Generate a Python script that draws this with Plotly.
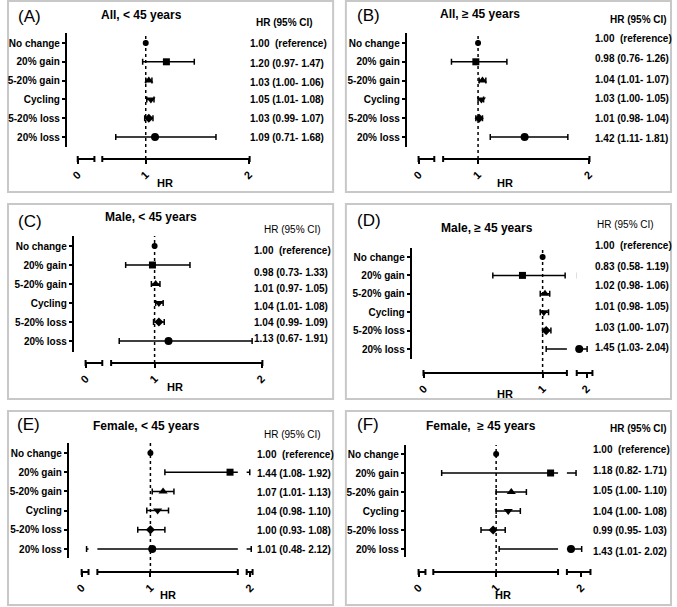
import plotly.graph_objects as go

W, H = 677, 607
FONT = "Liberation Sans, Arial, sans-serif"

# ---------------- data ----------------
categories = ["No change", "20% gain", "5-20% gain", "Cycling", "5-20% loss", "20% loss"]
x_ticks = [0, 1, 2]

titles = ["All, < 45 years", "All, \u2265 45 years", "Male, < 45 years",
          "Male, \u2265 45 years", "Female, < 45 years", "Female,  \u2265 45 years"]
letters = ["(A)", "(B)", "(C)", "(D)", "(E)", "(F)"]

hr_a = [1.00, 1.20, 1.03, 1.05, 1.03, 1.09]
lo_a = [None, 0.97, 1.00, 1.01, 0.99, 0.71]
hi_a = [None, 1.47, 1.06, 1.08, 1.07, 1.68]

hr_b = [1.00, 0.98, 1.04, 1.03, 1.01, 1.42]
lo_b = [None, 0.76, 1.01, 1.00, 0.98, 1.11]
hi_b = [None, 1.26, 1.07, 1.05, 1.04, 1.81]

hr_c = [1.00, 0.98, 1.01, 1.04, 1.04, 1.13]
lo_c = [None, 0.73, 0.97, 1.01, 0.99, 0.67]
hi_c = [None, 1.33, 1.05, 1.08, 1.09, 1.91]

hr_d = [1.00, 0.83, 1.02, 1.01, 1.03, 1.45]
lo_d = [None, 0.58, 0.98, 0.98, 1.00, 1.03]
hi_d = [None, 1.19, 1.06, 1.05, 1.07, 2.04]

hr_e = [1.00, 1.44, 1.07, 1.04, 1.00, 1.01]
lo_e = [None, 1.08, 1.01, 0.98, 0.93, 0.48]
hi_e = [None, 1.92, 1.13, 1.10, 1.08, 2.12]

hr_f = [1.00, 1.18, 1.05, 1.04, 0.99, 1.43]
lo_f = [None, 0.82, 1.00, 1.00, 0.95, 1.01]
hi_f = [None, 1.71, 1.10, 1.08, 1.03, 2.02]

series = [(hr_a, lo_a, hi_a), (hr_b, lo_b, hi_b), (hr_c, lo_c, hi_c),
          (hr_d, lo_d, hi_d), (hr_e, lo_e, hi_e), (hr_f, lo_f, hi_f)]

# ---------------- styling / layout geometry (pixels) ----------------
symbols = ["circle", "square", "triangle-up", "triangle-down", "diamond", "circle"]
msizes = [6, 7, 8, 8, 7, 8]

geo = [
    dict(box=(1, 1, 332, 192), letter=(9, 17), title=(137, 15), head=(282, 22, True),
         yx=60, ytop=33, ybot=147, row0=43, row5=137, xline=159,
         segs=[(72, 89, 0.0, 0.16), (97, 247, 0.585, 2.0)],
         tx=245, ty=[44, 63, 82, 100, 118, 137], axt=(161, 183)),
    dict(box=(345, 1, 676, 192), letter=(354, 16), title=(482, 14), head=(643, 20, True),
         yx=406, ytop=33, ybot=147, row0=43, row5=137, xline=159,
         segs=[(419, 435, 0.0, 0.14), (444, 593, 0.69, 2.0)],
         tx=597, ty=[38, 58, 80, 99, 118, 139], axt=(507, 183)),
    dict(box=(1, 204, 332, 399), letter=(9, 221), title=(147, 217), head=(291, 230, False),
         yx=67, ytop=236, ybot=352, row0=246, row5=341, xline=363,
         segs=[(80, 97, 0.0, 0.15), (106, 260, 0.6, 2.0)],
         tx=249, ty=[250, 272, 288, 306, 322, 338], axt=(171, 387)),
    dict(box=(345, 204, 676, 399), letter=(354, 220), title=(489, 228), head=(630, 224, False),
         yx=411, ytop=248, ybot=359, row0=257, row5=349, xline=373,
         segs=[(424, 570, 0.0, 1.2), (580, 596, 1.27, 2.43)],
         tx=597, ty=[246, 266, 286, 306, 327, 347], axt=(507, 394)),
    dict(box=(1, 411, 332, 605), letter=(8, 424), title=(142, 426), head=(291, 434, False),
         yx=62, ytop=443, ybot=558, row0=453, row5=549, xline=572,
         segs=[(76, 83, 0.0, 0.67), (92, 235, 0.71, 1.48), (244, 250, 1.5, 2.3)],
         tx=252, ty=[454, 473, 492, 511, 530, 549], axt=(164, 595)),
    dict(box=(345, 411, 676, 605), letter=(354, 424), title=(483, 426), head=(643, 428, True),
         yx=405, ytop=445, ybot=557, row0=454, row5=549, xline=572,
         segs=[(419, 426, 0.0, 0.4), (434, 561, 0.794, 1.203), (570, 594, 1.21, 2.5)],
         tx=595, ty=[449, 470, 490, 511, 530, 551], axt=(505, 595)),
]


def px(x):
    return x / W


def py(y):
    return 1 - y / H


def fmt_row(h, l, u):
    if l is None:
        return f"{h:.2f}  (reference)"
    return f"{h:.2f} ({l:.2f}- {u:.2f})"


fig = go.Figure()
layout = dict(width=W, height=H, margin=dict(l=0, r=0, t=0, b=0),
              paper_bgcolor="white", plot_bgcolor="white", showlegend=False)
shapes, annotations = [], []

xi = 0
rows = list(range(len(categories)))
for j, (g, (hr, lo, hi)) in enumerate(zip(geo, series), start=1):
    yname = "y" if j == 1 else f"y{j}"
    ykey = "yaxis" if j == 1 else f"yaxis{j}"
    sp = (g["row5"] - g["row0"]) / 5.0
    r_top = (g["ytop"] - g["row0"]) / sp
    r_bot = (g["ybot"] - g["row0"]) / sp
    layout[ykey] = dict(domain=[py(g["ybot"]), py(g["ytop"])], range=[r_bot, r_top],
                        anchor="free", position=px(g["yx"]),
                        tickmode="array", tickvals=rows, ticktext=categories,
                        showline=True, linewidth=2, linecolor="black",
                        ticks="outside", ticklen=3, tickwidth=1.5, tickcolor="black",
                        showgrid=False, zeroline=False,
                        tickfont=dict(family=FONT, size=10, color="black", weight="bold"))

    err_plus = [None if u is None else u - h for h, u in zip(hr, hi)]
    err_minus = [None if l is None else h - l for h, l in zip(hr, lo)]

    for (p0, p1, r0, r1) in g["segs"]:
        xi += 1
        xname = "x" if xi == 1 else f"x{xi}"
        xkey = "xaxis" if xi == 1 else f"xaxis{xi}"
        eps = 0.004 * (r1 - r0)
        tv = [t for t in x_ticks if r0 - eps <= t <= r1 + eps]
        layout[xkey] = dict(domain=[px(p0), px(p1)], range=[r0 - eps, r1 + eps],
                            anchor="free", position=py(g["xline"]),
                            tickmode="array", tickvals=tv, ticktext=[str(t) for t in tv],
                            tickangle=-45, showline=True, linewidth=2, linecolor="black",
                            ticks="outside", ticklen=4, tickwidth=2, tickcolor="black",
                            showgrid=False, zeroline=False,
                            tickfont=dict(family=FONT, size=11, color="black", weight="bold"))
        # CI lines (clipped to segment)
        fig.add_trace(go.Scatter(
            x=hr, y=rows, xaxis=xname, yaxis=yname, mode="markers",
            marker=dict(size=1, color="rgba(0,0,0,0)"),
            error_x=dict(type="data", symmetric=False, array=err_plus, arrayminus=err_minus,
                         color="black", thickness=1.5, width=3),
            hoverinfo="skip", cliponaxis=True))
        # point estimates lying in this segment
        idx = [i for i, h in enumerate(hr) if r0 <= h <= r1]
        if idx:
            fig.add_trace(go.Scatter(
                x=[hr[i] for i in idx], y=[rows[i] for i in idx], xaxis=xname, yaxis=yname,
                mode="markers", cliponaxis=False,
                marker=dict(symbol=[symbols[i] for i in idx], size=[msizes[i] for i in idx],
                            color="black", opacity=1, line=dict(width=0)),
                hoverinfo="skip"))
        # segment end caps
        for pe in (p0, p1):
            shapes.append(dict(type="line", xref="paper", yref="paper",
                               x0=px(pe), x1=px(pe), y0=py(g["xline"] - 3), y1=py(g["xline"] + 3),
                               line=dict(color="black", width=2)))
        if r0 <= 1 <= r1:
            shapes.append(dict(type="line", xref=xname, yref="paper", x0=1, x1=1,
                               y0=py(g["xline"]), y1=py(g["ytop"]),
                               line=dict(color="black", width=1.5, dash="dot")))

    # panel frame
    bx0, by0, bx1, by1 = g["box"]
    shapes.append(dict(type="rect", xref="paper", yref="paper", x0=px(bx0), x1=px(bx1),
                       y0=py(by1), y1=py(by0), line=dict(color="#c8c8c8", width=2),
                       layer="below"))

    # texts
    annotations.append(dict(text=letters[j - 1], x=px(g["letter"][0]), y=py(g["letter"][1]),
                            xref="paper", yref="paper", xanchor="left", yanchor="middle",
                            showarrow=False, font=dict(family=FONT, size=17, color="black")))
    annotations.append(dict(text=titles[j - 1], x=px(g["title"][0]), y=py(g["title"][1]),
                            xref="paper", yref="paper", xanchor="center", yanchor="middle",
                            showarrow=False,
                            font=dict(family=FONT, size=12, color="black", weight="bold")))
    hx, hy, hb = g["head"]
    annotations.append(dict(text="HR (95% CI)", x=px(hx), y=py(hy), xref="paper", yref="paper",
                            xanchor="center", yanchor="middle", showarrow=False,
                            font=dict(family=FONT, size=10, color="black",
                                      weight="bold" if hb else "normal")))
    for k in rows:
        annotations.append(dict(text=fmt_row(hr[k], lo[k], hi[k]), x=px(g["tx"]), y=py(g["ty"][k]),
                                xref="paper", yref="paper", xanchor="left", yanchor="middle",
                                showarrow=False,
                                font=dict(family=FONT, size=10, color="black", weight="bold")))
    annotations.append(dict(text="HR", x=px(g["axt"][0]), y=py(g["axt"][1]), xref="paper",
                            yref="paper", xanchor="center", yanchor="middle", showarrow=False,
                            font=dict(family=FONT, size=11, color="black", weight="bold")))

layout["shapes"] = shapes
layout["annotations"] = annotations
fig.update_layout(**layout)
fig.write_html("out.html", config={"displayModeBar": False},
               post_script="document.body.style.margin='0';document.body.style.overflow='hidden';")
